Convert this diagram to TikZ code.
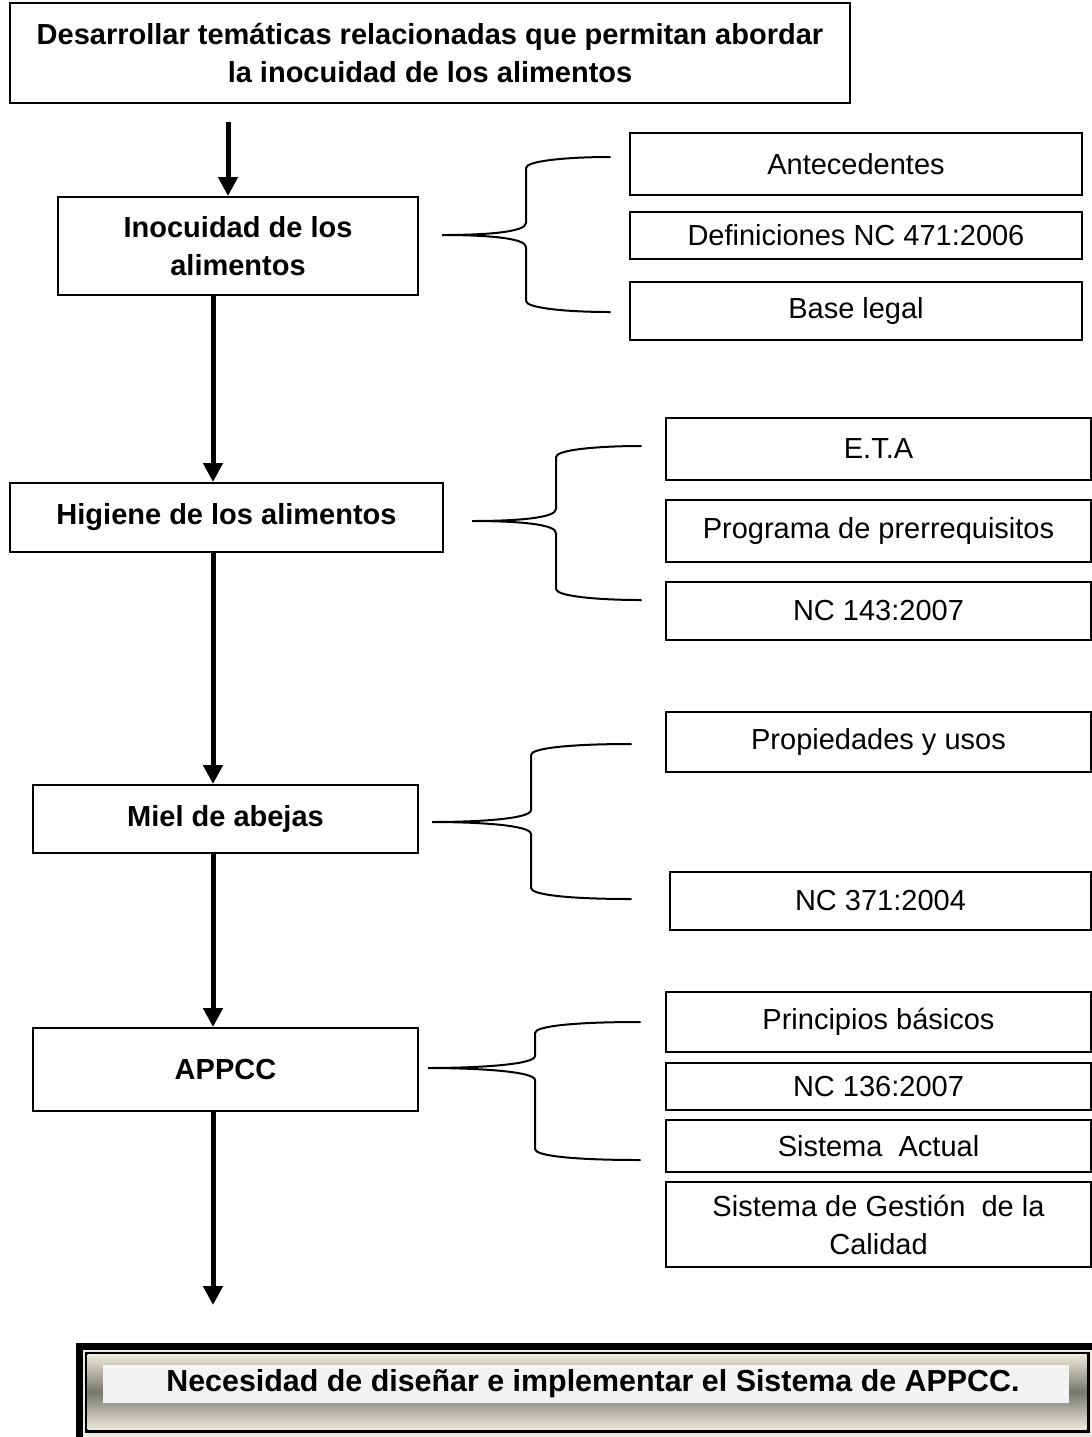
\documentclass[tikz,border=0pt]{standalone}
\usepackage{fontspec}
\setmainfont{Liberation Sans}
\usetikzlibrary{arrows.meta}

\definecolor{frcream}{HTML}{ECEADC}
\definecolor{frgrey}{HTML}{78776C}
\definecolor{panel}{HTML}{F3F3F3}

% curly brace: tip (#1,#2), vertical at x=#3, ends at x=#4, from y=#5 to y=#6
\newcommand{\curlybrace}[6]{%
  \draw[brace] (#4,#5) .. controls ({#3+40},#5) and (#3,{#5+4}) .. (#3,{#5+11})
    -- (#3,{#2-12}) .. controls (#3,{#2-3}) and ({#1+45},#2) .. (#1,#2)
    .. controls ({#1+45},#2) and (#3,{#2+3}) .. (#3,{#2+12})
    -- (#3,{#6-11}) .. controls (#3,{#6-4}) and ({#3+40},#6) .. (#4,#6);}

\begin{document}
\begin{tikzpicture}[x=0.5pt,y=-0.5pt,
  box/.style={draw, line width=1pt, inner sep=2pt, align=center,
    font=\fontsize{14.5}{19}\selectfont},
  bbox/.style={box, font=\fontsize{14.5}{19}\selectfont\bfseries},
  sz/.style 2 args={minimum width={#1*0.5pt}, minimum height={#2*0.5pt}},
  flow/.style={line width=2.5pt, -{Triangle[width=9.5pt,length=9.5pt]}},
  brace/.style={line width=1pt, line cap=round}]

\useasboundingbox (0,0) rectangle (1092,1437);

% main column
\node[bbox, sz={840}{100}] (top) at (430,53)
  {Desarrollar temáticas relacionadas que permitan abordar\\la inocuidad de los alimentos};
\node[bbox, sz={360}{98}] (ino) at (238,246) {Inocuidad de los\\alimentos};
\node[bbox, sz={433}{69}] (hig) at (226.5,517.5) {Higiene de los alimentos};
\node[bbox, sz={385}{68}] (miel) at (225.5,819) {Miel de abejas};
\node[bbox, sz={385}{83}] (appcc) at (225.5,1069.5) {APPCC};

% topic boxes
\node[box, sz={452}{62}] (ant) at (856,164) {Antecedentes};
\node[box, sz={452}{47}] (def) at (856,235.5) {Definiciones NC 471:2006};
\node[box, sz={452}{58}] (base) at (856,311) {Base legal};

\node[box, sz={425}{62}] (eta) at (878.5,449) {E.T.A};
\node[box, sz={425}{62}] (prog) at (878.5,531) {Programa de prerrequisitos};
\node[box, sz={425}{58}] (nc143) at (878.5,611) {NC 143:2007};

\node[box, sz={425}{60}] (prop) at (878.5,742) {Propiedades y usos};
\node[box, sz={421}{58}] (nc371) at (880.5,901) {NC 371:2004};

\node[box, sz={425}{60}] (prin) at (878.5,1022) {Principios básicos};
\node[box, sz={425}{47}] (nc136) at (878.5,1086.5) {NC 136:2007};
\node[box, sz={425}{52}] (sact) at (878.5,1146) {Sistema~ Actual};
\node[box, sz={425}{85}] (sgc) at (878.5,1224.5) {Sistema de Gestión~ de la\\Calidad};

% flow arrows
\coordinate (x2) at (213,0);
\coordinate (start) at (228,122);
\coordinate (finish) at (213,1305);
\draw[flow] (start) -- (start |- ino.north);
\draw[flow] (ino.south -| x2) -- (hig.north -| x2);
\draw[flow] (hig.south -| x2) -- (miel.north -| x2);
\draw[flow] (miel.south -| x2) -- (appcc.north -| x2);
\draw[flow] (appcc.south -| x2) -- (finish);

% braces
\curlybrace{442}{235}{526}{610}{157}{312}
\curlybrace{472}{521}{556}{641}{446}{600}
\curlybrace{432}{822}{531}{631}{744}{899}
\curlybrace{428}{1068}{535}{640}{1022}{1160}

% closing framed box
\fill[black] (76,1343) rectangle (1098,1443);
\fill[frcream] (82.5,1349.5) rectangle (1091.5,1436.5);
\fill[black] (84.5,1351.5) rectangle (1089.5,1432.5);
\shade[top color=frcream, bottom color=frcream, middle color=frgrey]
  (87.5,1354.5) rectangle (1086.5,1429.5);
\fill[panel] (103,1365) rectangle (1069,1403);
\node[font=\fontsize{15.2}{19}\selectfont\bfseries, inner sep=0] (need) at (593,1384)
  {Necesidad de diseñar e implementar el Sistema de APPCC.};

\end{tikzpicture}
\end{document}
